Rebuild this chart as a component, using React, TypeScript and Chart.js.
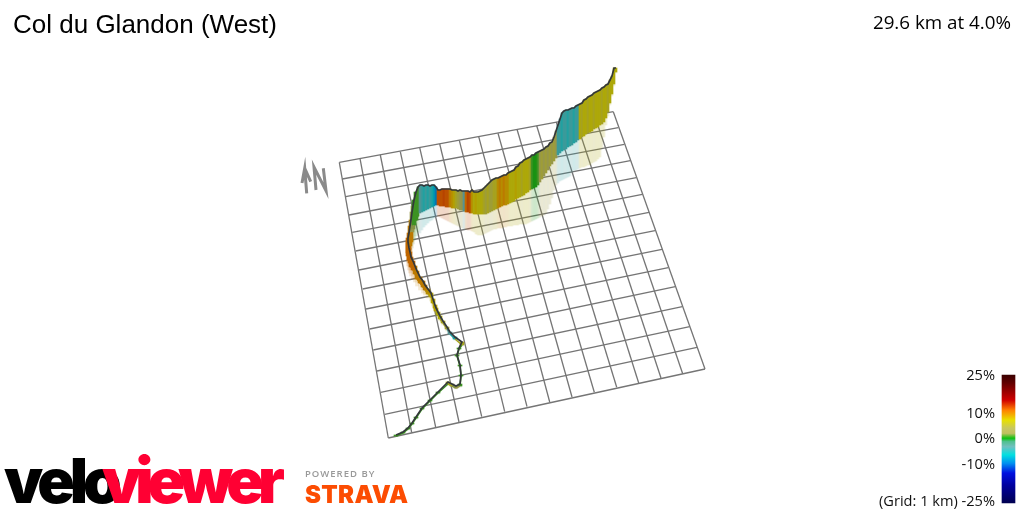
import React, { useEffect, useRef } from "react";
import { Chart, registerables } from "chart.js";

Chart.register(...registerables);

const titleText = "Col du Glandon (West)";
const summaryText = "29.6 km at 4.0%";
const legendLabels = ["25%", "10%", "0%", "-10%", "(Grid: 1 km) -25%"];
const legendLabelY = [380, 418, 443, 469, 506];

// Grid frame
const gridTopX = [339.3, 360, 380.3, 400.3, 419.7, 439.7, 459.3, 478.7, 498, 517, 536.7, 556.3, 575.3, 594.3, 613.3];
const gridTopY = [162.3, 158.7, 155, 151.7, 147.7, 144, 140.3, 136.7, 133.3, 129.3, 125.7, 122, 118.7, 115, 111.7];
const gridBottomX = [388.3, 411.7, 435.7, 459, 481.7, 504.7, 527, 549.7, 572, 594.3, 616.7, 638.7, 661, 682.7, 705];
const gridBottomY = [438, 432.7, 427.3, 422, 416.7, 411.7, 406.7, 402, 397, 392.3, 387.3, 383, 378, 373.7, 369];
const gridLeftX = [339.3, 342.3, 345.7, 349, 352.3, 355.7, 359, 362.7, 366, 369.7, 373.3, 377, 380.7, 384.7, 388.3];
const gridLeftY = [162.3, 179, 196.7, 215, 232.3, 251, 270, 289, 309, 329, 350, 371, 392.3, 414.3, 438];
const gridRightX = [613.3, 618.3, 624.3, 630.3, 636.3, 642.3, 649, 655, 662, 668.3, 675.3, 682.3, 689.7, 697, 705];
const gridRightY = [111.7, 127.7, 144.3, 160.7, 177.7, 194.3, 212.3, 230.7, 249.3, 267.7, 286.7, 306.7, 326.7, 347.3, 369];

// Thin lower part of the route
const lowerX = [396, 403, 408, 412, 416, 422, 430, 438, 448, 452, 456, 460, 461, 460, 457, 459, 462, 455, 450, 447, 443, 440, 438, 436, 435, 433, 431, 428, 425, 423, 420, 417, 415, 413, 411, 410, 409, 408, 408, 409, 410, 411, 412, 413, 414, 416];
const lowerTop = [435, 432, 428, 423, 417, 408, 400, 392, 382, 384, 386, 384, 375, 365, 355, 348, 342, 337, 332, 327, 321, 316, 312, 308, 305, 299, 293, 289, 285, 281, 277, 271, 266, 261, 257, 252, 248, 242, 238, 233, 226, 220, 212, 206, 200, 192];
const lowerBase = [436, 433, 429, 424, 418, 409, 401, 393, 384, 386, 388, 386, 376, 366, 356, 349, 345, 339, 334, 329, 323, 319, 315, 311, 308, 303, 297, 294, 290, 287, 283, 279, 274, 270, 267, 263, 260, 256, 253, 250, 246, 242, 232, 229, 225, 220];
const lowerShadow = [436, 434, 430, 425, 419, 410, 402, 394, 385, 387, 389, 387, 377, 367, 357, 350, 346, 340, 335, 331, 325, 321, 317, 314, 311, 306, 301, 298, 295, 293, 290, 286, 282, 279, 276, 273, 270, 266, 262, 258, 255, 252, 248, 244, 240, 236];
const lowerGrade = [1, 1, 1, 1, 1, 1, 1, 1, 6, 2, 3, 1, 1, 1, 1, 1, 6, -5, -3, 5, 6, 7, 7, 8, 8, 8, 8, 9, 10, 10, 10, 10, 10, 11, 11, 11, 11, 11, 11, 11, 10, 10, 4, 2, 1, 1];

// Tall upper part of the route, one slice per column
const sliceX = [418, 420, 422, 424, 426, 428, 430, 432, 434, 436, 438, 440, 442, 444, 446, 448, 450, 452, 454, 456, 458, 460, 462, 464, 466, 468, 470, 472, 474, 476, 478, 480, 482, 484, 486, 488, 490, 492, 494, 496, 498, 500, 502, 504, 506, 508, 510, 512, 514, 516, 518, 520, 522, 524, 526, 528, 530, 532, 534, 536, 538, 540, 542, 544, 546, 548, 550, 552, 554, 556, 558, 560, 562, 564, 566, 568, 570, 572, 574, 576, 578, 580, 582, 584, 586, 588, 590, 592, 594, 596, 598, 600, 602, 604, 606, 608, 610, 612, 614, 616];
const sliceTop = [187, 185, 185, 186, 185, 185, 186, 185, 185, 187, 190, 190, 189, 189, 189, 189, 189, 190, 190, 190, 191, 190, 191, 191, 191, 191, 192, 190, 192, 192, 192, 191, 190, 188, 186, 184, 182, 180, 179, 178, 178, 177, 176, 175, 175, 173, 172, 171, 170, 167, 166, 163, 162, 160, 159, 158, 157, 155, 155, 153, 152, 151, 150, 149, 147, 146, 143, 142, 137, 131, 125, 119, 113, 111, 110, 110, 109, 108, 108, 106, 105, 104, 103, 100, 99, 97, 96, 95, 93, 92, 91, 90, 88, 87, 85, 84, 80, 76, 68, 68];
const sliceBase = [216, 213, 212, 211, 210, 209, 208, 207, 206, 205, 205, 206, 206, 206, 207, 207, 207, 208, 208, 208, 209, 210, 210, 211, 212, 212, 213, 213, 214, 214, 214, 214, 214, 214, 214, 213, 212, 211, 210, 209, 208, 207, 206, 205, 205, 204, 203, 202, 201, 199, 198, 197, 196, 195, 193, 192, 190, 189, 188, 187, 185, 182, 179, 176, 173, 170, 166, 164, 161, 158, 155, 153, 151, 150, 149, 147, 146, 145, 143, 142, 140, 139, 137, 136, 134, 133, 132, 131, 129, 128, 127, 125, 124, 122, 118, 112, 103, 94, 84, 72];
const sliceShadow = [232, 233, 230, 227, 225, 223, 221, 220, 218, 216, 216, 217, 218, 219, 220, 221, 222, 223, 224, 225, 226, 227, 228, 229, 229, 230, 230, 231, 232, 234, 235, 235, 235, 234, 233, 232, 231, 230, 229, 229, 228, 228, 228, 227, 227, 226, 226, 226, 225, 225, 225, 224, 224, 224, 224, 223, 222, 221, 220, 219, 218, 217, 216, 215, 213, 209, 204, 198, 190, 185, 183, 181, 180, 179, 178, 177, 176, 172, 170, 170, 169, 168, 167, 167, 166, 165, 165, 163, 162, 161, 159, 157, 148, 137, 125, 116, 105, 96, 86, 73];
const sliceGrade = [1, -3, -4, -5, -4, -5, -4, -5, -7, -9, 12, 12, 12, 12.5, 12, 12, 10, 9, 8, 6, 5, 4, 3, -3, 11, 12.5, 12, 9, 7, 8, 7, 7, 7, 6, 5, 6, 5, 5, 6, 6, 9, 10, 9, 10, 9, 9, 7, 7, 7, 8, 7, 7, 6, 7, 7, 7, 6, 1, 0.5, 0.5, 1, 4, 5, 4, 5, 4, 5, 4, 5, 4, -4, -4, -5, -4, -4, -5, -4, -4, -5, -4, -4, 7, 6, 7, 7, 6, 7, 7, 6, 7, 7, 7, 6, 7, 7, 6, 7, 7, 7, 7];

// Colour key
const gradeStops = [25, 22, 15.2, 11.3, 7.4, 4.2, 2.2, 0.3, -1, -3, -6.2, -9.5, -13.3, -18, -25];
const gradeColors = ["#3a0000", "#600000", "#d00000", "#ff8000", "#e8e000", "#c8c860", "#c0c060", "#10c010", "#50c090", "#70c0c0", "#00e0e0", "#0090f0", "#0010e0", "#0000a0", "#000050"];
const keyX = 1008.5;
const keyTop = 375;
const keyBottom = 503;

// North marker strokes
const arrowX = [306.7, 304.7, 302, 304.7, 310.7];
const arrowY = [193.3, 168.3, 183, 168.3, 181.7];
const northX = [316, 314, 326, 323.3];
const northY = [190, 167, 190.7, 168.3];

const hex = (c: string) => [1, 3, 5].map((i) => parseInt(c.slice(i, i + 2), 16));

function gradeRgb(g: number): number[] {
  for (let i = 0; i < gradeStops.length - 1; i++) {
    if (g <= gradeStops[i] && g >= gradeStops[i + 1]) {
      const t = (gradeStops[i] - g) / (gradeStops[i] - gradeStops[i + 1]);
      const a = hex(gradeColors[i]);
      const b = hex(gradeColors[i + 1]);
      return a.map((v, k) => v + (b[k] - v) * t);
    }
  }
  return hex(gradeColors[0]);
}
const tone = (g: number, alpha = 1) => {
  const [r, gg, b] = gradeRgb(g).map((v) => Math.round(v * 0.76));
  return `rgba(${r},${gg},${b},${alpha})`;
};

const pts = (xs: number[], ys: number[]) => xs.map((x, i) => ({ x, y: ys[i] }));
const spans = (xs: number[], a: number[], b: number[]) => xs.map((x, i) => ({ x, y: [a[i], b[i]] }));

const textPlugin = {
  id: "texts",
  afterDraw(chart: any) {
    const c = chart.ctx;
    const { x, y } = chart.scales;
    const put = (t: string, px: number, py: number, font: string, color: string, align: CanvasTextAlign = "left", spacing = "0px") => {
      c.font = font;
      c.fillStyle = color;
      c.textAlign = align;
      c.textBaseline = "alphabetic";
      (c as any).letterSpacing = spacing;
      c.fillText(t, x.getPixelForValue(px), y.getPixelForValue(py));
      (c as any).letterSpacing = "0px";
    };
    c.save();
    put(titleText, 13, 33, '26px "Liberation Sans"', "#000");
    put(summaryText, 1011, 29, '18.8px "Open Sans"', "#000", "right");
    legendLabels.forEach((t, i) => put(t, 995, legendLabelY[i], '14.6px "Open Sans"', "#111", "right"));
    put("velo", 4, 503, '900 62px "Inter"', "#000", "left", "-5px");
    put("viewer", 102, 503, '900 62px "Inter"', "#ff0033", "left", "-6px");
    put("POWERED BY", 305, 477, '600 9.5px "Open Sans"', "#999", "left", "1px");
    put("STRAVA", 305, 503, '900 24px "Inter"', "#fc4c02", "left", "0.3px");
    c.restore();
  },
};

export default function App() {
  const ref = useRef<HTMLCanvasElement>(null);
  useEffect(() => {
    const gridLine = (xa: number, ya: number, xb: number, yb: number) => ({
      type: "line" as const,
      data: [{ x: xa, y: ya }, { x: xb, y: yb }],
      borderColor: "#757575",
      borderWidth: 1.3,
      pointRadius: 0,
      order: 9,
    });
    const grid = [
      ...gridTopX.map((v, i) => gridLine(v, gridTopY[i], gridBottomX[i], gridBottomY[i])),
      ...gridLeftX.map((v, i) => gridLine(v, gridLeftY[i], gridRightX[i], gridRightY[i])),
    ];
    const routeX = [...lowerX, ...sliceX];
    const routeTop = [...lowerTop, ...sliceTop];
    const routeBase = [...lowerBase, ...sliceBase];
    const routeGrade = [...lowerGrade, ...sliceGrade];
    const floating = (data: any[], colors: string[], width: number, order: number) => ({
      type: "bar" as const,
      data,
      backgroundColor: colors,
      borderWidth: 0,
      barThickness: width,
      grouped: false,
      order,
    });
    const stroke = (xs: number[], ys: number[]) => ({
      type: "line" as const,
      data: pts(xs, ys),
      borderColor: "#8a8a8a",
      borderWidth: 3,
      pointRadius: 0,
      order: 1,
    });
    const keyCanvas = document.createElement("canvas").getContext("2d")!;
    const keyFill = keyCanvas.createLinearGradient(0, keyTop, 0, keyBottom);
    gradeStops.forEach((s, i) => keyFill.addColorStop((gradeStops[0] - s) / (gradeStops[0] - gradeStops[gradeStops.length - 1]), gradeColors[i]));
    const chart = new Chart(ref.current!, {
      type: "bar",
      data: {
        datasets: [
          ...grid,
          floating(spans(sliceX, sliceBase, sliceShadow), sliceGrade.map((g) => tone(g, 0.17)), 2, 8),
          floating(spans(lowerX, lowerBase, lowerShadow), lowerGrade.map((g) => tone(g, 0.17)), 3, 8),
          floating(spans(sliceX, sliceTop, sliceBase), sliceGrade.map((g) => tone(g)), 2, 6),
          floating(spans(lowerX, lowerTop, lowerBase), lowerGrade.map((g) => tone(g)), 4, 6),
          {
            type: "line" as const,
            data: pts(routeX, routeBase),
            borderColor: "#2a6a2a",
            borderWidth: 1.6,
            pointRadius: 0,
            segment: { borderColor: (s: any) => (s.p0DataIndex < lowerX.length ? tone(routeGrade[s.p0DataIndex]) : "rgba(0,0,0,0)") },
            order: 5,
          },
          {
            type: "line" as const,
            data: pts(routeX, routeTop),
            borderColor: "#33373a",
            borderWidth: 1.7,
            pointRadius: 0,
            order: 4,
          },
          stroke(arrowX, arrowY),
          stroke(northX, northY),
          {
            type: "bar" as const,
            data: [{ x: keyX, y: [keyTop, keyBottom] }],
            backgroundColor: keyFill,
            borderWidth: 0,
            barThickness: 13,
            grouped: false,
            order: 1,
          },
        ] as any,
      },
      options: {
        responsive: false,
        animation: false,
        layout: { padding: 0 },
        scales: {
          x: { type: "linear", min: 0, max: 1024, display: false, offset: false },
          y: { type: "linear", min: 0, max: 512, reverse: true, display: false },
        },
        plugins: { legend: { display: false }, title: { display: false }, tooltip: { enabled: false } },
      },
      plugins: [textPlugin],
    });
    return () => chart.destroy();
  }, []);
  return <canvas ref={ref} width={1024} height={512} style={{ position: "fixed", left: 0, top: 0, display: "block" }} />;
}
